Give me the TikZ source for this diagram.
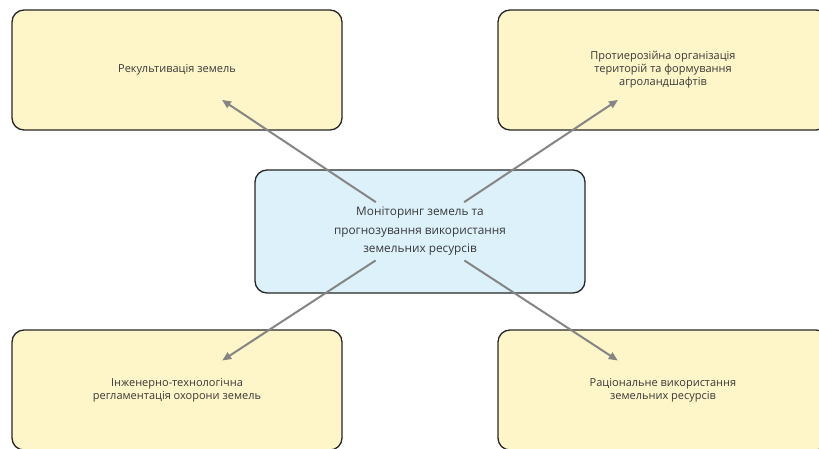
\documentclass[tikz,border=0pt]{standalone}
\usepackage{fontspec}
\setmainfont{Open Sans}
\usepackage{tikz}
\usetikzlibrary{arrows.meta,positioning}
\definecolor{gyellow}{HTML}{FEF6C8}
\definecolor{gblue}{HTML}{DDF1FA}
\definecolor{gedge}{HTML}{262626}
\definecolor{gtext}{HTML}{383838}
\definecolor{garrow}{HTML}{858585}
\tikzset{
  goal/.style={draw=gedge,fill=gyellow,rounded corners=12pt,line width=1.3pt,align=center,text=gtext,
    font=\fontsize{11}{13}\selectfont,minimum width=330pt,minimum height=120pt,inner sep=0pt},
  core/.style={draw=gedge,fill=gblue,rounded corners=12pt,line width=1.3pt,align=center,text=gtext,
    font=\fontsize{11.8}{18.5}\selectfont,minimum width=330pt,minimum height=123pt,inner sep=0pt},
  arr/.style={-{Triangle[length=9pt,width=7.5pt]},line width=2pt,draw=garrow,shorten <=53pt,shorten >=54pt},
}
\begin{document}
\begin{tikzpicture}[x=1pt,y=-1pt]
\useasboundingbox (0,0) rectangle (819,449);
\clip (0,0) rectangle (819,449);
\node[core] (mon) at (420,231.5) {Моніторинг земель та\\прогнозування використання\\земельних ресурсів};
\node[goal] (rek) at (177,70) {Рекультивація земель};
\node[goal] (pro) at (663,70) {Протиерозійна організація\\територій та формування\\агроландшафтів};
\node[goal] (inz) at (177,390) {Інженерно-технологічна\\регламентація охорони земель};
\node[goal] (rac) at (663,390) {Раціональне використання\\земельних ресурсів};
\draw[arr] (mon.center) -- (rek.center); \draw[arr] (mon.center) -- (pro.center);
\draw[arr] (mon.center) -- (inz.center); \draw[arr] (mon.center) -- (rac.center);
\end{tikzpicture}
\end{document}
